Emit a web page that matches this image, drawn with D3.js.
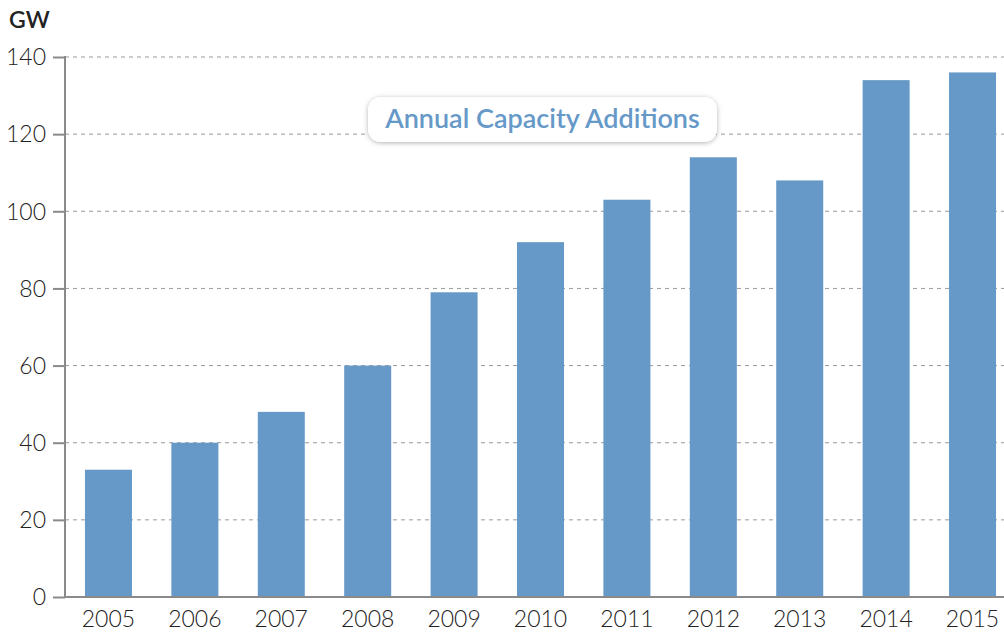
<!DOCTYPE html>
<html><head><meta charset="utf-8">
<script src="https://cdn.jsdelivr.net/npm/d3@7"></script>
<style>body{margin:0;background:#fff}svg{display:block}text{font-family:Lato,"Open Sans",sans-serif}</style>
</head><body><svg id="c" width="1004" height="634"></svg>
<script>
const years = ["2005","2006","2007","2008","2009","2010","2011","2012","2013","2014","2015"];
const additions = [33,40,48,60,79,92,103,114,108,134,136];
const yTicks = [0,20,40,60,80,100,120,140];
const unitLabel = "GW";
const seriesTitle = "Annual Capacity Additions";

const svg = d3.select("#c");
const x0 = 65, yBase = 597, yTop = 57;
const y = d3.scaleLinear().domain([0,140]).range([yBase,yTop]);
const x = d3.scaleBand().domain(years).range([x0, 1016]).paddingInner(0.456).paddingOuter(0.231);

const defs = svg.append("defs");
const f = defs.append("filter").attr("id","sh").attr("x","-10%").attr("y","-30%").attr("width","120%").attr("height","170%");
f.append("feDropShadow").attr("dx",0).attr("dy",1).attr("stdDeviation",2.5).attr("flood-color","#000").attr("flood-opacity",0.3);

// grid
svg.append("g").selectAll("line").data(yTicks.filter(d=>d>0)).join("line")
  .attr("x1",x0).attr("x2",1004).attr("y1",d=>y(d)).attr("y2",d=>y(d))
  .attr("stroke","#9a9a9a").attr("stroke-width",1).attr("stroke-dasharray","4,4");

// bars
svg.append("g").selectAll("rect").data(additions).join("rect")
  .attr("x",(d,i)=>x(years[i])).attr("width",x.bandwidth())
  .attr("y",d=>y(d)).attr("height",d=>yBase-y(d)).attr("fill","#6699c8");

// y axis
const ya = svg.append("g").attr("transform",`translate(${x0},0)`)
  .call(d3.axisLeft(y).tickValues(yTicks).tickSize(12).tickPadding(7));
ya.select(".domain").remove();
ya.selectAll(".tick line").attr("stroke","#8a8a8a").attr("stroke-width",2);
ya.selectAll(".tick text").attr("fill","#222").attr("dy","0.34em").style("font-size","23px").style("font-weight","300").style("font-family","Lato,sans-serif");
svg.append("line").attr("x1",x0).attr("x2",x0).attr("y1",yTop-1).attr("y2",yBase+1).attr("stroke","#8a8a8a").attr("stroke-width",2);

// x axis
const xa = svg.append("g").attr("transform",`translate(0,${yBase})`)
  .call(d3.axisBottom(x).tickSize(0).tickPadding(14));
xa.select(".domain").remove();
xa.selectAll(".tick text").attr("fill","#222").style("font-size","23px").style("font-weight","300").style("font-family","Lato,sans-serif");
svg.append("line").attr("x1",x0).attr("x2",1004).attr("y1",yBase).attr("y2",yBase).attr("stroke","#8a8a8a").attr("stroke-width",2);

svg.append("text").attr("x",9).attr("y",28).text(unitLabel)
  .attr("fill","#222").style("font-size","23px").style("font-weight","600");

// title box
svg.append("rect").attr("x",368).attr("y",97).attr("width",349).attr("height",45).attr("rx",13)
  .attr("fill","#fff").attr("filter","url(#sh)");
svg.append("text").attr("x",542.5).attr("y",128).attr("text-anchor","middle").text(seriesTitle)
  .attr("fill","#6699c8").style("font-size","27px").style("font-weight","600");
</script></body></html>
